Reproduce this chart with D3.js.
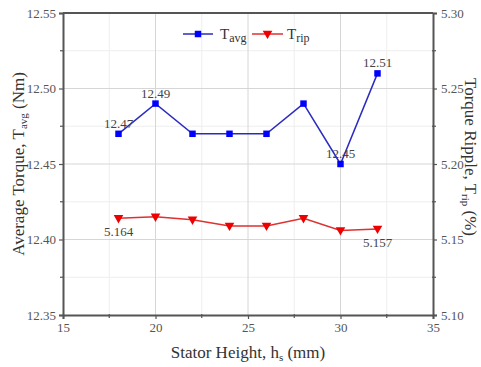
<!DOCTYPE html>
<html>
<head>
<meta charset="utf-8">
<script src="https://cdn.jsdelivr.net/npm/d3@7"></script>
<style>
  html, body { margin: 0; padding: 0; background: #fff; }
  svg { display: block; font-family: "Liberation Serif", "Times New Roman", "DejaVu Serif", serif; }
</style>
</head>
<body>
<svg id="chart" width="481" height="367"></svg>
<script>
// Stator height sweep (mm)
const statorHeight = [18, 20, 22, 24, 26, 28, 30, 32];
// Average torque (Nm)
const torqueAvg = [12.47, 12.49, 12.47, 12.47, 12.47, 12.49, 12.45, 12.51];
// Torque ripple (%)
const torqueRipple = [5.164, 5.165, 5.163, 5.159, 5.159, 5.164, 5.156, 5.157];

const xTicks = [15, 20, 25, 30, 35];
const xMinor = [17.5, 22.5, 27.5, 32.5];
const yLeftTicks = [12.35, 12.40, 12.45, 12.50, 12.55];
const yLeftMinor = [12.375, 12.425, 12.475, 12.525];
const yRightTicks = [5.10, 5.15, 5.20, 5.25, 5.30];
const yRightMinor = [5.125, 5.175, 5.225, 5.275];

// Points that carry a value label
const avgLabels = [0, 1, 6, 7];
const ripLabels = [0, 7];

const serif = "Liberation Serif, Times New Roman, DejaVu Serif, serif";
const svg = d3.select("#chart");
const m = { left: 63, right: 433, top: 13, bottom: 315 };

const x = d3.scaleLinear().domain([15, 35]).range([m.left, m.right]);
const yL = d3.scaleLinear().domain([12.35, 12.55]).range([m.bottom, m.top]);
const yR = d3.scaleLinear().domain([5.10, 5.30]).range([m.bottom, m.top]);

const frame = "#555";
const tickText = "#555";

// Grid
const grid = svg.append("g");
grid.selectAll(".vmin").data(xMinor).join("line")
  .attr("x1", d => x(d)).attr("x2", d => x(d))
  .attr("y1", m.top).attr("y2", m.bottom)
  .attr("stroke", "#eeeeee").attr("stroke-width", 1);
grid.selectAll(".hmin").data(yLeftMinor).join("line")
  .attr("x1", m.left).attr("x2", m.right)
  .attr("y1", d => yL(d)).attr("y2", d => yL(d))
  .attr("stroke", "#eeeeee").attr("stroke-width", 1);
grid.selectAll(".vmaj").data(xTicks.slice(1, -1)).join("line")
  .attr("x1", d => x(d)).attr("x2", d => x(d))
  .attr("y1", m.top).attr("y2", m.bottom)
  .attr("stroke", "#d6d6d6").attr("stroke-width", 1);
grid.selectAll(".hmaj").data(yLeftTicks.slice(1, -1)).join("line")
  .attr("x1", m.left).attr("x2", m.right)
  .attr("y1", d => yL(d)).attr("y2", d => yL(d))
  .attr("stroke", "#d6d6d6").attr("stroke-width", 1);

// Axes
const xAxis = d3.axisBottom(x).tickValues(xTicks).tickFormat(d3.format("d")).tickSize(4).tickPadding(4);
const yAxisL = d3.axisLeft(yL).tickValues(yLeftTicks).tickFormat(d3.format(".2f")).tickSize(4).tickPadding(3);
const yAxisR = d3.axisRight(yR).tickValues(yRightTicks).tickFormat(d3.format(".2f")).tickSize(4).tickPadding(4);

function styleAxis(g) {
  g.attr("font-family", serif);
  g.select(".domain").attr("stroke", frame).attr("stroke-width", 2);
  g.selectAll(".tick line").attr("stroke", frame).attr("stroke-width", 1.2);
  g.selectAll(".tick text").attr("fill", tickText).attr("font-size", 13);
}

svg.append("g").attr("transform", `translate(0,${m.bottom})`).call(xAxis).call(styleAxis);
svg.append("g").attr("transform", `translate(${m.left},0)`).call(yAxisL).call(styleAxis);
svg.append("g").attr("transform", `translate(${m.right},0)`).call(yAxisR).call(styleAxis);

// Top border
svg.append("line").attr("x1", m.left).attr("x2", m.right)
  .attr("y1", m.top).attr("y2", m.top).attr("stroke", frame).attr("stroke-width", 2);

// Minor ticks
svg.append("g").selectAll("line").data(xMinor).join("line")
  .attr("x1", d => x(d)).attr("x2", d => x(d))
  .attr("y1", m.bottom - 1).attr("y2", m.bottom + 3)
  .attr("stroke", frame).attr("stroke-width", 1.2);
svg.append("g").selectAll("line").data(yLeftMinor).join("line")
  .attr("x1", m.left - 3).attr("x2", m.left + 1)
  .attr("y1", d => yL(d)).attr("y2", d => yL(d))
  .attr("stroke", frame).attr("stroke-width", 1.2);
svg.append("g").selectAll("line").data(yRightMinor).join("line")
  .attr("x1", m.right - 1).attr("x2", m.right + 3)
  .attr("y1", d => yR(d)).attr("y2", d => yR(d))
  .attr("stroke", frame).attr("stroke-width", 1.2);

// Series
const blueLine = "#2b2bc0", blueMark = "#0000ff";
const redLine = "#e03030", redMark = "#ee0000";

const avgData = statorHeight.map((h, i) => ({ h, v: torqueAvg[i] }));
const ripData = statorHeight.map((h, i) => ({ h, v: torqueRipple[i] }));

svg.append("path").datum(avgData)
  .attr("fill", "none").attr("stroke", blueLine).attr("stroke-width", 1.5)
  .attr("d", d3.line().x(d => x(d.h)).y(d => yL(d.v)));
svg.append("path").datum(ripData)
  .attr("fill", "none").attr("stroke", redLine).attr("stroke-width", 1.5)
  .attr("d", d3.line().x(d => x(d.h)).y(d => yR(d.v)));

const sq = d3.symbol().type(d3.symbolSquare).size(42);
const tri = d3.symbol().type(d3.symbolTriangle).size(40);

svg.append("g").selectAll("path").data(avgData).join("path")
  .attr("d", sq).attr("fill", blueMark)
  .attr("transform", d => `translate(${x(d.h)},${yL(d.v)})`);
svg.append("g").selectAll("path").data(ripData).join("path")
  .attr("d", tri).attr("fill", redMark)
  .attr("transform", d => `translate(${x(d.h)},${yR(d.v) - 0.5}) rotate(180)`);

// Value labels
svg.append("g").selectAll("text").data(avgLabels).join("text")
  .attr("x", i => x(statorHeight[i]))
  .attr("y", i => yL(torqueAvg[i]) - 6)
  .attr("text-anchor", "middle").attr("font-size", 13).attr("fill", "#444")
  .text(i => d3.format(".2f")(torqueAvg[i]));
svg.append("g").selectAll("text").data(ripLabels).join("text")
  .attr("x", i => x(statorHeight[i]))
  .attr("y", i => yR(torqueRipple[i]) + 18)
  .attr("text-anchor", "middle").attr("font-size", 13).attr("fill", "#444")
  .text(i => d3.format(".3f")(torqueRipple[i]));

// Legend
const leg = svg.append("g");
leg.append("line").attr("x1", 183).attr("x2", 213).attr("y1", 34).attr("y2", 34)
  .attr("stroke", blueLine).attr("stroke-width", 1.5);
leg.append("path").attr("d", sq).attr("fill", blueMark).attr("transform", "translate(198,34)");
const t1 = leg.append("text").attr("x", 220).attr("y", 39).attr("font-size", 15).attr("fill", "#333");
t1.append("tspan").text("T");
t1.append("tspan").attr("font-size", 12).attr("dy", 3).text("avg");

leg.append("line").attr("x1", 252).attr("x2", 283).attr("y1", 34).attr("y2", 34)
  .attr("stroke", redLine).attr("stroke-width", 1.5);
leg.append("path").attr("d", tri).attr("fill", redMark).attr("transform", "translate(267.5,33.5) rotate(180)");
const t2 = leg.append("text").attr("x", 287).attr("y", 39).attr("font-size", 15).attr("fill", "#333");
t2.append("tspan").text("T");
t2.append("tspan").attr("font-size", 12).attr("dy", 3).text("rip");

// Axis titles
const xt = svg.append("text").attr("x", (m.left + m.right) / 2).attr("y", 358)
  .attr("text-anchor", "middle").attr("font-size", 17).attr("fill", "#333");
xt.append("tspan").text("Stator Height, h");
xt.append("tspan").attr("font-size", 11).attr("dy", 3).text("s");
xt.append("tspan").attr("dy", -3).text(" (mm)");

const ylt = svg.append("text").attr("transform", `translate(24,${(m.top + m.bottom) / 2}) rotate(-90)`)
  .attr("text-anchor", "middle").attr("font-size", 17).attr("fill", "#333");
ylt.append("tspan").text("Average Torque, T");
ylt.append("tspan").attr("font-size", 11).attr("dy", 3).text("avg");
ylt.append("tspan").attr("dy", -3).text(" (Nm)");

const yrt = svg.append("text").attr("transform", `translate(465,${(m.top + m.bottom) / 2 - 7}) rotate(90)`)
  .attr("text-anchor", "middle").attr("font-size", 17).attr("fill", "#333");
yrt.append("tspan").text("Torque Ripple, T");
yrt.append("tspan").attr("font-size", 11).attr("dy", 3).text("rip");
yrt.append("tspan").attr("dy", -3).text(" (%)");
</script>
</body>
</html>
